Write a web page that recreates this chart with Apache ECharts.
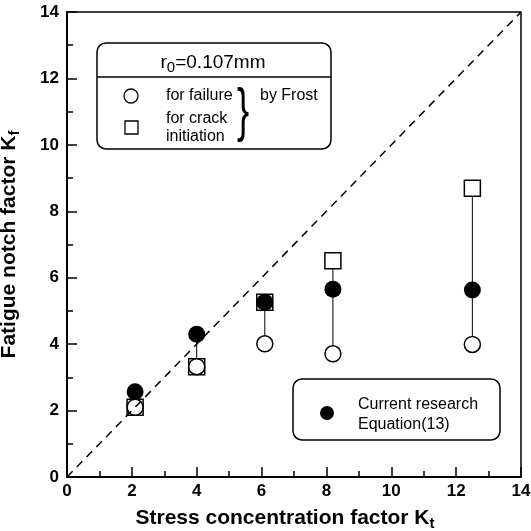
<!DOCTYPE html>
<html>
<head>
<meta charset="utf-8">
<script src="https://cdn.jsdelivr.net/npm/echarts@6/dist/echarts.min.js"></script>
<style>
  html, body { margin: 0; padding: 0; background: #fff; }
  #chart { width: 531px; height: 531px; }
</style>
</head>
<body>
<div id="chart"></div>
<script>
// stress concentration factor Kt of each specimen
var kt = [2.1, 4.0, 6.1, 8.2, 12.5];
// Frost, for failure (open circles)
var kfFailure = [2.1, 3.32, 4.01, 3.71, 3.99];
// Frost, for crack initiation (open squares)
var kfCrack = [2.1, 3.32, 5.26, 6.51, 8.69];
// current research, Equation(13) (filled circles)
var kfCurrent = [2.57, 4.3, 5.26, 5.65, 5.63];
var axisTicks = [0, 2, 4, 6, 8, 10, 12, 14];

var font = 'Arial, "Liberation Sans", Helvetica, sans-serif';

function pairs (ys) {
  return kt.map(function (x, i) { return [x, ys[i]]; });
}

// thin vertical line joining the three values at each Kt
var linkSeries = kt.map(function (x, i) {
  var vals = [kfFailure[i], kfCrack[i], kfCurrent[i]];
  return {
    type: 'line',
    data: [[x, Math.min.apply(null, vals)], [x, Math.max.apply(null, vals)]],
    symbol: 'none',
    lineStyle: { color: '#000', width: 1 },
    z: 1,
    silent: true
  };
});

var axisCommon = {
  type: 'value',
  min: axisTicks[0],
  max: axisTicks[axisTicks.length - 1],
  interval: 2,
  axisLine: { show: true, lineStyle: { color: '#000', width: 2 } },
  axisTick: { show: true, inside: true, length: 10, lineStyle: { color: '#000', width: 1.5 } },
  minorTick: { show: true, splitNumber: 2, length: 6, lineStyle: { color: '#000', width: 1.5 } },
  splitLine: { show: false },
  axisLabel: { color: '#000', fontSize: 17, fontWeight: 'bold', fontFamily: font },
  nameLocation: 'middle',
  nameTextStyle: { color: '#000', fontSize: 21, fontWeight: 'bold', fontFamily: font }
};

var chart = echarts.init(document.getElementById('chart'));
chart.setOption({
  backgroundColor: '#fff',
  animation: false,
  grid: {
    left: 67, right: 10, top: 12, bottom: 54,
    containLabel: false, outerBoundsMode: 'none',
    show: true, borderColor: '#000', borderWidth: 1.5
  },
  xAxis: Object.assign({}, axisCommon, {
    name: 'Stress concentration factor K{s|t}',
    nameGap: 29,
    axisLabel: Object.assign({}, axisCommon.axisLabel, { margin: 6 }),
    nameTextStyle: Object.assign({}, axisCommon.nameTextStyle, {
      padding: [0, 18, 0, 0],
      rich: { s: { fontSize: 15, fontWeight: 'bold', fontFamily: font, padding: [10, 0, 0, 0] } }
    })
  }),
  yAxis: Object.assign({}, axisCommon, {
    name: 'Fatigue notch factor K{s|f}',
    nameGap: 45,
    axisLabel: Object.assign({}, axisCommon.axisLabel, { margin: 8 }),
    nameTextStyle: Object.assign({}, axisCommon.nameTextStyle, {
      rich: { s: { fontSize: 15, fontWeight: 'bold', fontFamily: font, padding: [10, 0, 0, 0] } }
    })
  }),
  series: linkSeries.concat([
    {
      type: 'scatter',
      data: pairs(kfCurrent),
      symbol: 'circle',
      symbolSize: 17,
      itemStyle: { color: '#000', opacity: 1 },
      z: 2
    },
    {
      type: 'scatter',
      data: pairs(kfCrack),
      symbol: 'rect',
      symbolSize: 16,
      itemStyle: { color: '#fff', borderColor: '#000', borderWidth: 1.5, opacity: 1 },
      z: 1
    },
    {
      type: 'scatter',
      data: pairs(kfFailure),
      symbol: 'circle',
      symbolSize: 16,
      itemStyle: { color: '#fff', borderColor: '#000', borderWidth: 1.5, opacity: 1 },
      z: 3
    },
    {
      type: 'line',
      data: [[0, 0], [14, 14]],
      symbol: 'none',
      lineStyle: { color: '#000', width: 1.5, type: [8, 6] },
      z: 4,
      silent: true
    }
  ]),
  graphic: [
    // upper legend box
    { type: 'rect', shape: { x: 97, y: 43, width: 234, height: 106, r: 9 },
      style: { fill: '#fff', stroke: '#000', lineWidth: 1.5 }, z: 10 },
    { type: 'line', shape: { x1: 97, y1: 77, x2: 331, y2: 77 },
      style: { stroke: '#000', lineWidth: 1.5 }, z: 11 },
    { type: 'text', x: 213, y: 63, z: 11,
      style: { text: 'r{s|0}=0.107mm', align: 'center', verticalAlign: 'middle',
        font: '19px ' + font, fill: '#000',
        rich: { s: { fontSize: 15, fontFamily: font, padding: [9, 0, 0, 0] } } } },
    { type: 'circle', shape: { cx: 131, cy: 96, r: 7 },
      style: { fill: '#fff', stroke: '#000', lineWidth: 1.3 }, z: 11 },
    { type: 'rect', shape: { x: 125, y: 121, width: 13, height: 13 },
      style: { fill: '#fff', stroke: '#000', lineWidth: 1.3 }, z: 11 },
    { type: 'text', x: 166, y: 96, z: 11,
      style: { text: 'for failure', verticalAlign: 'middle', font: '16px ' + font, fill: '#000' } },
    { type: 'text', x: 166, y: 119, z: 11,
      style: { text: 'for crack', verticalAlign: 'middle', font: '16px ' + font, fill: '#000' } },
    { type: 'text', x: 166, y: 137, z: 11,
      style: { text: 'initiation', verticalAlign: 'middle', font: '16px ' + font, fill: '#000' } },
    { type: 'text', x: 237, y: 114, z: 11, scaleX: 0.7, scaleY: 1.15,
      style: { text: '}', verticalAlign: 'middle', font: '300 52px ' + font, fill: '#000' } },
    { type: 'text', x: 260, y: 96, z: 11,
      style: { text: 'by Frost', verticalAlign: 'middle', font: '16px ' + font, fill: '#000' } },
    // lower legend box
    { type: 'rect', shape: { x: 293, y: 379, width: 207, height: 61, r: 9 },
      style: { fill: '#fff', stroke: '#000', lineWidth: 1.5 }, z: 10 },
    { type: 'circle', shape: { cx: 327, cy: 413, r: 7 },
      style: { fill: '#000' }, z: 11 },
    { type: 'text', x: 358, y: 405, z: 11,
      style: { text: 'Current research', verticalAlign: 'middle', font: '16px ' + font, fill: '#000' } },
    { type: 'text', x: 358, y: 425, z: 11,
      style: { text: 'Equation(13)', verticalAlign: 'middle', font: '16px ' + font, fill: '#000' } }
  ]
});
</script>
</body>
</html>
